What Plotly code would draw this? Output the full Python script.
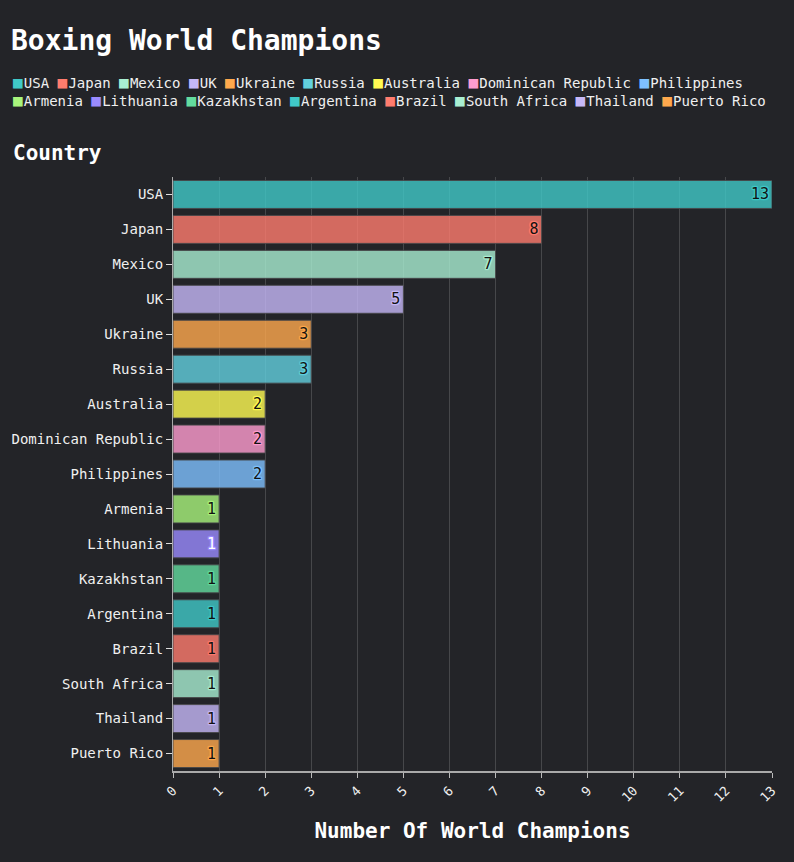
import plotly.graph_objects as go

countries = ["USA", "Japan", "Mexico", "UK", "Ukraine", "Russia", "Australia",
             "Dominican Republic", "Philippines", "Armenia", "Lithuania",
             "Kazakhstan", "Argentina", "Brazil", "South Africa", "Thailand",
             "Puerto Rico"]
champions = [13, 8, 7, 5, 3, 3, 2, 2, 2, 1, 1, 1, 1, 1, 1, 1, 1]
palette = ["#40c9c8", "#ff7c6e", "#a9efd2", "#c6b8f8", "#ffa94d", "#62d0de",
           "#fffb52", "#ff9ccf", "#7ec1ff", "#a9f57c", "#9a8bff", "#63dc9f"]
text_colors = ["#111111"] * 10 + ["#ffffff"] + ["#111111"] * 6
x_ticks = list(range(0, 14))

FONT = "DejaVu Sans Mono"
BG = "#232428"


def rgba(hex_color, a):
    h = hex_color.lstrip("#")
    r, g, b = int(h[0:2], 16), int(h[2:4], 16), int(h[4:6], 16)
    return f"rgba({r},{g},{b},{a})"


fig = go.Figure()
for i, (c, v) in enumerate(zip(countries, champions)):
    col = palette[i % len(palette)]
    glow = ", ".join(f"{dx}px {dy}px 1px {col}" for dx, dy in
                     [(1, 0), (-1, 0), (0, 1), (0, -1), (1, 1), (-1, -1), (1, -1), (-1, 1)])
    fig.add_trace(go.Bar(
        x=[v], y=[c], orientation="h", name=c,
        marker=dict(color=rgba(col, 0.8), line=dict(color="rgba(70,70,72,0.9)", width=1)),
        text=[str(v)], textposition="inside", insidetextanchor="end",
        constraintext="none",
        textfont=dict(family=FONT, size=15, color=text_colors[i], shadow=glow),
        showlegend=False, hoverinfo="x+y",
    ))

# compact legend rows built from the series names and colours
rows = [countries[:9], countries[9:]]
legend_lines = []
idx = 0
for row in rows:
    parts = []
    for c in row:
        col = palette[idx % len(palette)]
        parts.append(f"<span style='color:{col};font-size:16px'>■</span>"
                     f"<span style='font-size:2px'> </span>{c}")
        idx += 1
    legend_lines.append(" ".join(parts))
legend_text = "<br>".join(legend_lines)

fig.update_layout(
    width=794, height=862,
    paper_bgcolor=BG, plot_bgcolor=BG,
    barmode="overlay", bargap=0.2,
    margin=dict(l=173, r=22, t=177, b=91),
    font=dict(family=FONT, color="#f0f0f0", size=14),
    title=dict(text="<b>Boxing World Champions</b>", font=dict(family=FONT, size=28, color="#ffffff"),
               xref="container", yref="container", x=11 / 794, xanchor="left",
               y=1 - 40 / 862, yanchor="middle"),
    showlegend=False,
    annotations=[
        dict(text=legend_text, xref="paper", yref="paper",
             x=(11 - 173) / 599, y=(771 - 71) / 594, xanchor="left", yanchor="top",
             align="left", showarrow=False, font=dict(family=FONT, size=14, color="#f0f0f0")),
        dict(text="<b>Country</b>", xref="paper", yref="paper",
             x=(11 - 173) / 599, y=(771 - 153) / 594, xanchor="left", yanchor="middle",
             showarrow=False, font=dict(family=FONT, size=21, color="#ffffff")),
    ],
    xaxis=dict(
        range=[0, 13], tickvals=x_ticks, ticktext=[str(t) for t in x_ticks],
        tickangle=-45, ticks="outside", ticklen=5, tickcolor="#bbbbbb",
        tickfont=dict(family=FONT, size=13, color="#f0f0f0"),
        showgrid=True, gridcolor="rgba(255,255,255,0.16)", gridwidth=1,
        showline=True, linecolor="#aaaaaa", linewidth=2, zeroline=False,
        title=dict(text="<b>Number Of World Champions</b>", standoff=19,
                   font=dict(family=FONT, size=21, color="#ffffff")),
        fixedrange=True,
    ),
    yaxis=dict(
        categoryorder="array", categoryarray=countries, autorange="reversed",
        ticks="outside", ticklen=6, tickcolor="#dddddd",
        tickfont=dict(family=FONT, size=14, color="#f0f0f0"),
        showgrid=False, showline=True, linecolor="#aaaaaa", linewidth=1,
        title=None, fixedrange=True,
    ),
)

fig.write_html(
    "out.html",
    config={"displayModeBar": False},
    post_script="document.body.style.margin='0';document.body.style.background='%s';" % BG,
)
